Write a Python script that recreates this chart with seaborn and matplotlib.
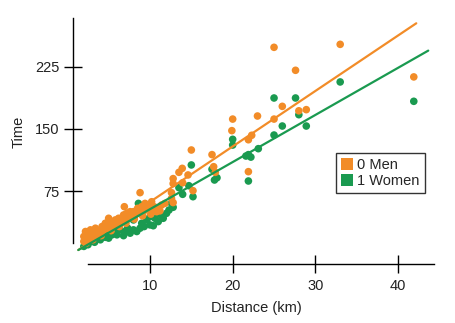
import matplotlib
matplotlib.use("Agg")
import matplotlib.pyplot as plt
from matplotlib.lines import Line2D
import numpy as np
import pandas as pd
import seaborn as sns

# ---------------- data ----------------
men_distance = [2.0, 2.0, 2.2, 2.4, 2.6, 2.8, 3.0, 3.2, 3.4, 3.6, 3.8, 4.0, 4.2, 4.4, 4.6,
                4.8, 5.0, 5.0, 5.2, 5.5, 5.8, 6.0, 6.2, 6.5, 6.8, 7.0, 7.2, 7.4, 7.6, 7.8,
                8.0, 8.2, 8.5, 8.7, 9.0, 9.2, 9.4, 9.6, 9.8, 10.0, 10.2, 10.5, 10.8, 11.0,
                11.4, 11.8, 6.9, 8.8, 12.6, 12.8, 12.8, 12.8, 12.6,
                2.3, 3.1, 4.1, 5.3, 6.3, 7.1, 8.1, 9.1, 10.1, 11.2,
                13.5, 13.9, 13.95, 14.6, 15.0, 15.2, 17.5, 17.7, 17.9, 19.9, 20.0,
                21.9, 21.9, 22.3, 23.0, 25.0, 25.0, 26.0, 27.6, 28.0, 28.9, 33.0, 41.9]
men_time = [14, 20, 26, 17, 22, 28, 18, 24, 30, 21, 27, 25, 32, 28, 36,
            30, 34, 42, 38, 33, 40, 36, 42, 38, 46, 40, 48, 44, 50, 45,
            50, 46, 54, 49, 56, 50, 60, 54, 58, 52, 62, 56, 50, 55,
            58, 60, 56, 73, 73, 61, 84, 90, 66,
            12, 16, 21, 27, 32, 36, 41, 45, 47, 51,
            97.6, 102.4, 85, 94.4, 124.6, 75.4, 119, 104.4, 97.6, 148, 162,
            137, 98.4, 142.4, 165.7, 162, 248.8, 177.4, 221, 172, 173.4, 252.4, 213]

women_distance = [2.0, 2.2, 2.5, 2.8, 3.0, 3.3, 3.6, 4.0, 4.3, 4.6, 5.0, 5.0, 5.4, 5.8, 6.0,
                  6.4, 6.8, 7.0, 7.0, 7.3, 7.6, 8.0, 8.0, 8.4, 8.6, 8.8, 9.0, 9.3, 9.6, 10.0,
                  10.0, 10.4, 10.6, 11.0, 11.3, 11.6, 12.0, 12.3, 12.6, 12.8,
                  13.5, 13.95, 14.7, 15.0, 15.2, 17.5, 17.8, 18.1, 20.0, 20.0, 21.6,
                  21.9, 21.9, 22.2, 23.1, 25.0, 25.0, 26.0, 27.6, 28.0, 28.9, 33.0, 41.9]
women_time = [8, 12, 10, 14, 16, 13, 18, 16, 21, 19, 18, 24, 22, 26, 22,
              28, 21, 26, 46, 30, 24, 28, 40, 26, 60, 30, 36, 32, 40, 34,
              44, 33, 42, 38, 46, 42, 48, 52, 60, 55.3,
              79, 71, 81.4, 106.5, 68.1, 101.3, 88.3, 91, 137.5, 130.6, 117.3,
              119, 87.1, 116, 126.2, 187.5, 142.7, 153.6, 187.5, 167.3, 153.6, 206.9, 183.5]

# fitted lines: intercept, slope, x-range
fit_groups = ["0 Men", "1 Women"]
fit_intercept = [-5.3, -4.0]
fit_slope = [6.71, 5.70]
fit_x_start = [1.33, 1.33]
fit_x_end = [42.2, 43.65]

x_ticks = [10, 20, 30, 40]
y_ticks = [75, 150, 225]

# ---------------- styling ----------------
orange = "#F28C28"
green = "#1A9A50"
palette = {"0 Men": orange, "1 Women": green}
text_color = "#222222"

sns.set_theme(style="white")
plt.rcParams['font.family'] = ['Liberation Sans Narrow', 'Liberation Sans', 'DejaVu Sans']

df = pd.concat([
    pd.DataFrame({"Distance": women_distance, "Time": women_time, "Sex": "1 Women"}),
    pd.DataFrame({"Distance": men_distance, "Time": men_time, "Sex": "0 Men"}),
], ignore_index=True)

fig = plt.figure(figsize=(4.55, 3.23), dpi=100)
ax = fig.add_axes([73 / 455, 59 / 323, 367 / 455, 250 / 323])

sns.scatterplot(data=df, x="Distance", y="Time", hue="Sex", palette=palette,
                s=30, linewidth=0, alpha=1, ax=ax, legend=False, zorder=2)

for g, b0, b1, xs, xe in zip(fit_groups, fit_intercept, fit_slope, fit_x_start, fit_x_end):
    xx = np.array([xs, xe])
    ax.plot(xx, b0 + b1 * xx, color=palette[g], lw=1.6, zorder=3)

ax.set_xlim(0.69, 45.07)
ax.set_ylim(-13.3, 289.1)

for side in ["top", "right"]:
    ax.spines[side].set_visible(False)
for side in ["left", "bottom"]:
    ax.spines[side].set_color("black")
    ax.spines[side].set_linewidth(1.0)
ax.spines["left"].set_bounds(12, 284)
ax.spines["bottom"].set_bounds(2.5, 44.4)

ax.set_xticks(x_ticks)
ax.set_yticks(y_ticks)
ax.set_xticklabels([str(v) for v in x_ticks])
ax.set_yticklabels([str(v) for v in y_ticks])
ax.tick_params(axis="both", direction="inout", length=13, width=1.0, color="black",
               labelsize=10.5, labelcolor=text_color, bottom=True, left=True)
ax.tick_params(axis="x", pad=4)
ax.tick_params(axis="y", pad=3)

ax.set_xlabel("Distance (km)", fontsize=10.5, color=text_color, labelpad=6)
ax.set_ylabel("Time", fontsize=10.5, color=text_color)
ax.yaxis.set_label_coords(-0.128, 0.528)

handles = [Line2D([], [], marker="s", linestyle="none", markersize=8,
                  markerfacecolor=palette[g], markeredgewidth=0) for g in fit_groups]
leg = ax.legend(handles, fit_groups, loc="upper left", bbox_to_anchor=(0.717, 0.444),
                frameon=True, fancybox=False, fontsize=10.5, handlelength=0.8,
                handletextpad=0.3, borderpad=0.35, labelspacing=0.15,
                borderaxespad=0)
leg.get_frame().set_edgecolor("black")
leg.get_frame().set_linewidth(1.0)

fig.savefig("out.png", dpi=100)
